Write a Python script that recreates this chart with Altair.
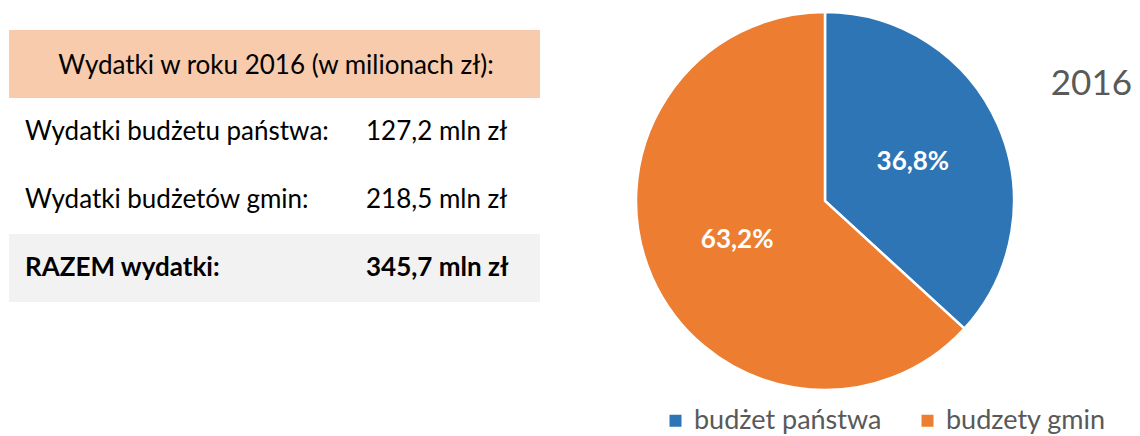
import altair as alt
import pandas as pd

# ---- data ----
row_ids = ["header", "r1", "r2", "total"]
row_fill = ["#F8CBAD", "#FFFFFF", "#FFFFFF", "#F2F2F2"]
header_text = ["Wydatki w roku 2016 (w milionach zł):"]
row_labels = ["Wydatki budżetu państwa:", "Wydatki budżetów gmin:", "RAZEM wydatki:"]
row_values = ["127,2 mln zł", "218,5 mln zł", "345,7 mln zł"]
row_bold = [False, False, True]
categories = ["budżet państwa", "budzety gmin"]
shares = [36.8, 63.2]
share_labels = ["36,8%", "63,2%"]
colors = ["#2E75B6", "#ED7D31"]
year = ["2016"]

FONT = "Lato"

rect_df = pd.DataFrame({"row": row_ids, "fill": row_fill})
head_df = pd.DataFrame({"row": ["header"], "txt": header_text})
rows_df = pd.DataFrame({"row": row_ids[1:], "label": row_labels,
                        "value": row_values, "bold": row_bold})
pie_df = pd.DataFrame({"cat": categories, "share": shares,
                       "lbl": share_labels, "idx": [0, 1]})
year_df = pd.DataFrame({"txt": year})

yscale = alt.Scale(domain=row_ids, range=[22, 294], paddingInner=0, paddingOuter=0)
Y = alt.Y("row:N", scale=yscale, axis=None)
Ymid = alt.Y("row:N", scale=yscale, axis=None, bandPosition=0.5)

rects = alt.Chart(rect_df).mark_rect(x=1, x2=532).encode(
    y=Y, fill=alt.Fill("fill:N", scale=None)
)

header = alt.Chart(head_df).mark_text(
    align="center", baseline="middle", font=FONT, fontSize=26, color="#000000", dy=2
).encode(y=Ymid, x=alt.value(268), text="txt:N")

normal = rows_df[~rows_df["bold"]]
bold = rows_df[rows_df["bold"]]

def row_layer(df, field, xpos, weight):
    return alt.Chart(df).mark_text(
        align="left", baseline="middle", font=FONT, fontSize=26,
        fontWeight=weight, color="#000000"
    ).encode(y=Ymid, x=alt.value(xpos), text=f"{field}:N")

table = (row_layer(normal, "label", 17, "normal") + row_layer(normal, "value", 358, "normal")
         + row_layer(bold, "label", 17, "bold") + row_layer(bold, "value", 358, "bold"))

CX, CY = 817, 193

pie = alt.Chart(pie_df).mark_arc(outerRadius=189, stroke="white", strokeWidth=2.5).encode(
    theta=alt.Theta("share:Q", stack=True),
    color=alt.Color("cat:N", scale=alt.Scale(domain=categories, range=colors),
                    legend=alt.Legend(
                        orient="none", legendX=654, legendY=399, direction="horizontal",
                        title=None, symbolType="square", symbolSize=144,
                        symbolStrokeWidth=0, labelFont=FONT, labelFontSize=27,
                        labelColor="#595959", labelOffset=5, columnPadding=32,
                        labelLimit=0)),
    order=alt.Order("idx:Q"),
    x=alt.value(CX), y=alt.value(CY),
)

pie_text = alt.Chart(pie_df).mark_text(
    radius=96, font=FONT, fontSize=26, fontWeight="bold", color="white",
    align="center", baseline="middle"
).encode(
    theta=alt.Theta("share:Q", stack=True),
    text="lbl:N",
    order=alt.Order("idx:Q"),
    x=alt.value(CX), y=alt.value(CY),
)

year_text = alt.Chart(year_df).mark_text(
    align="right", baseline="middle", font=FONT, fontSize=35, color="#595959"
).encode(x=alt.value(1124), y=alt.value(76), text="txt:N")

chart = alt.layer(rects, header, table, pie, pie_text, year_text).resolve_scale(
    color="independent"
).properties(
    width=1124, height=428, padding=0,
    autosize=alt.AutoSizeParams(type="none"),
).configure_view(stroke=None)

chart.save("out.html", embed_options={"renderer": "svg", "actions": False})
